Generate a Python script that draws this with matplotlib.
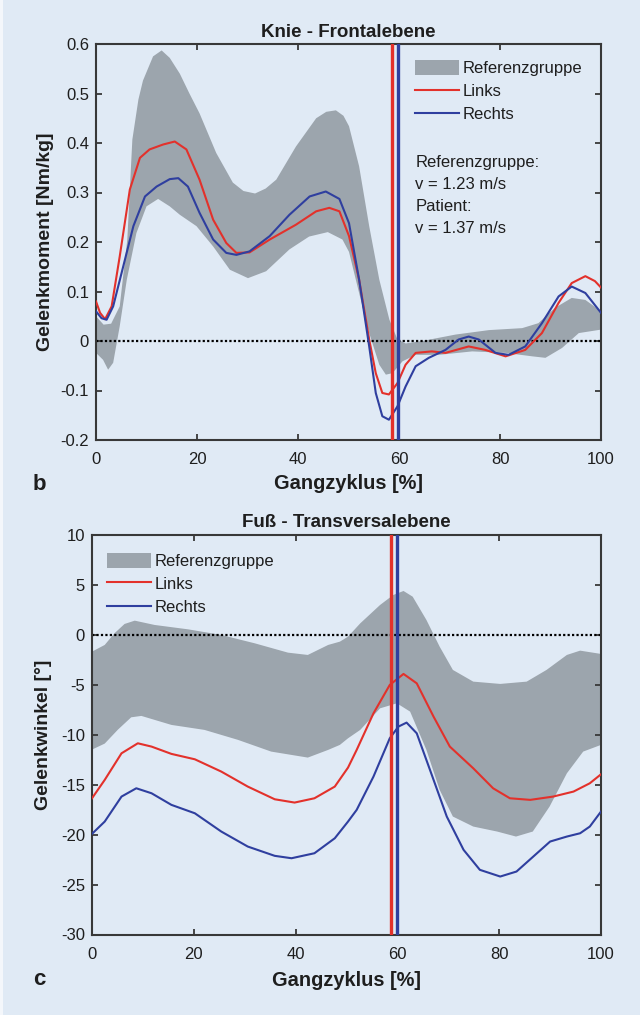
import matplotlib
matplotlib.use("Agg")
import matplotlib.pyplot as plt
from matplotlib.patches import Rectangle
import numpy as np

plt.rcParams['font.family'] = ['Liberation Sans', 'DejaVu Sans']
plt.rcParams['axes.unicode_minus'] = False

# ---------------- data ----------------
x_ticks = [0, 20, 40, 60, 80, 100]
x_ticklabels = ["0", "20", "40", "60", "80", "100"]

# toe-off markers (% gait cycle)
toe_off_links = 58.7
toe_off_rechts = 59.9

# Knee - frontal plane
knee_yticks = [-0.2, -0.1, 0, 0.1, 0.2, 0.3, 0.4, 0.5, 0.6]
knee_yticklabels = ["-0.2", "-0.1", "0", "0.1", "0.2", "0.3", "0.4", "0.5", "0.6"]

knee_ref_upper_x = [0, 1.5, 3, 4.7, 6.2, 7.2, 8.4, 9.3, 11.3, 13, 14.6, 16.6, 18.5, 20.5, 23.8,
                    27.1, 29.2, 31.5, 33.6, 35.7, 39.6, 43.6, 45.6, 47.5, 49.0, 50.1, 52.1, 54.1,
                    56.1, 58.1, 59.7, 61.3, 64.6, 71.2, 77.8, 84.4, 87.6, 90.9, 94.2, 96.9, 100]
knee_ref_upper_y = [0.05, 0.033, 0.035, 0.07, 0.205, 0.407, 0.488, 0.526, 0.575, 0.587, 0.572,
                    0.54, 0.50, 0.46, 0.38, 0.32, 0.303, 0.298, 0.308, 0.326, 0.393, 0.45, 0.463,
                    0.466, 0.455, 0.434, 0.353, 0.232, 0.124, 0.043, 0.003, -0.005, 0.0, 0.013,
                    0.022, 0.026, 0.036, 0.067, 0.087, 0.083, 0.06]
knee_ref_lower_x = [0, 1.4, 2.4, 3.4, 4.7, 6.1, 8.0, 10.0, 12.3, 14.6, 16.6, 19.9, 23.2, 26.5, 30.1,
                    33.7, 38.3, 42.2, 45.9, 48.8, 50.1, 52.1, 54.1, 56.1, 57.4, 58.7, 60.7, 63.3,
                    67.9, 74.5, 81.1, 86.4, 89.0, 92.3, 95.6, 100]
knee_ref_lower_y = [-0.024, -0.038, -0.058, -0.044, 0.03, 0.124, 0.218, 0.272, 0.287, 0.272, 0.255,
                    0.232, 0.191, 0.144, 0.127, 0.141, 0.185, 0.211, 0.22, 0.205, 0.18, 0.097, 0.016,
                    -0.048, -0.068, -0.065, -0.041, -0.028, -0.028, -0.021, -0.024, -0.031, -0.034,
                    -0.014, 0.016, 0.023]
knee_links_x = [0, 0.8, 1.8, 3.1, 4.7, 6.7, 8.7, 10.6, 13.3, 15.6, 17.9, 20.5, 23.2, 25.8, 27.8,
                30.4, 34.4, 39.6, 43.6, 46.2, 48.2, 50.1, 52.1, 54.1, 55.4, 56.7, 58.0, 59.7, 61.3,
                63.3, 66.5, 69.2, 73.8, 77.1, 81.1, 85.0, 88.3, 91.6, 94.2, 96.9, 98.8, 100]
knee_links_y = [0.08, 0.057, 0.044, 0.07, 0.171, 0.306, 0.37, 0.387, 0.397, 0.403, 0.387, 0.326,
                0.245, 0.198, 0.178, 0.179, 0.205, 0.235, 0.262, 0.269, 0.262, 0.212, 0.124, 0.003,
                -0.065, -0.105, -0.108, -0.085, -0.048, -0.024, -0.021, -0.024, -0.011, -0.018,
                -0.031, -0.018, 0.016, 0.077, 0.117, 0.131, 0.121, 0.108]
knee_rechts_x = [0, 1.1, 2.1, 3.4, 5.4, 7.4, 9.7, 12.0, 14.6, 16.3, 18.2, 20.5, 23.2, 25.8, 27.8,
                 30.4, 34.4, 38.3, 42.3, 45.5, 48.2, 50.1, 52.1, 54.1, 55.4, 56.7, 58.0, 59.7, 61.3,
                 63.3, 65.9, 69.2, 71.8, 73.8, 75.8, 79.1, 81.7, 85.0, 88.3, 91.6, 94.2, 96.9, 100]
knee_rechts_y = [0.06, 0.046, 0.043, 0.07, 0.151, 0.232, 0.292, 0.312, 0.327, 0.329, 0.312, 0.259,
                 0.205, 0.178, 0.174, 0.181, 0.212, 0.255, 0.292, 0.302, 0.287, 0.238, 0.124,
                 -0.011, -0.105, -0.152, -0.159, -0.132, -0.092, -0.051, -0.034, -0.018, 0.003,
                 0.009, 0.003, -0.024, -0.028, -0.011, 0.036, 0.09, 0.11, 0.097, 0.057]

# Foot - transverse plane
foot_yticks = [-30, -25, -20, -15, -10, -5, 0, 5, 10]
foot_yticklabels = ["-30", "-25", "-20", "-15", "-10", "-5", "0", "5", "10"]

foot_ref_upper_x = [0, 2.5, 4.4, 6.4, 8.4, 12.3, 18.9, 25.4, 32.0, 38.5, 42.4, 46.4, 48.7, 50.3,
                    52.7, 56.6, 59.2, 61.2, 63.0, 65.7, 68.3, 70.9, 74.9, 80.2, 85.4, 89.3, 93.3,
                    95.9, 100]
foot_ref_upper_y = [-1.7, -1.03, 0.13, 1.07, 1.4, 0.97, 0.53, -0.03, -0.87, -1.8, -2.03, -1.03,
                    -0.7, -0.2, 1.13, 2.97, 3.97, 4.37, 3.8, 1.47, -1.2, -3.53, -4.7, -4.93, -4.7,
                    -3.53, -2.03, -1.6, -1.93]
foot_ref_lower_x = [0, 2.5, 5.1, 7.7, 9.7, 15.6, 22.1, 28.7, 35.2, 42.4, 46.4, 48.7, 50.3, 52.7,
                    56.6, 59.9, 62.5, 65.7, 68.3, 70.9, 74.9, 79.6, 83.3, 86.6, 89.9, 93.3, 96.5, 100]
foot_ref_lower_y = [-11.5, -10.9, -9.5, -8.27, -8.13, -9.03, -9.53, -10.53, -11.7, -12.3, -11.53,
                    -11.03, -10.37, -9.53, -7.37, -6.87, -7.7, -11.53, -15.53, -18.2, -19.2, -19.7,
                    -20.2, -19.7, -17.2, -13.87, -11.7, -11.03]
foot_links_x = [0, 2.5, 5.8, 9.0, 11.7, 15.6, 20.2, 25.4, 30.6, 35.9, 39.8, 43.7, 47.7, 50.3, 52.0,
                55.3, 58.5, 61.2, 63.8, 67.1, 70.3, 74.9, 78.8, 82.1, 86.1, 90.6, 94.6, 97.8, 100]
foot_links_y = [-16.37, -14.53, -11.87, -10.87, -11.2, -11.93, -12.47, -13.7, -15.2, -16.47,
                -16.8, -16.37, -15.2, -13.3, -11.53, -7.87, -5.03, -3.93, -4.87, -8.2, -11.2,
                -13.37, -15.37, -16.37, -16.53, -16.2, -15.7, -14.87, -13.97]
foot_rechts_x = [0, 2.5, 5.8, 8.7, 11.7, 15.6, 20.2, 25.4, 30.6, 35.9, 39.2, 43.7, 47.7, 50.3, 52.0,
                 55.3, 58.5, 60.2, 61.8, 63.8, 66.4, 69.7, 73.0, 76.2, 80.2, 83.4, 86.7, 90.0, 93.3,
                 95.9, 97.8, 100]
foot_rechts_y = [-19.93, -18.7, -16.2, -15.37, -15.87, -17.03, -17.87, -19.7, -21.2, -22.13,
                 -22.37, -21.87, -20.37, -18.7, -17.53, -14.2, -10.37, -9.2, -8.8, -9.87, -13.53,
                 -18.2, -21.53, -23.53, -24.2, -23.7, -22.2, -20.7, -20.2, -19.87, -19.2, -17.7]

# ---------------- style ----------------
BG = "#e0eaf5"
BAND = "#9ca5ad"
RED = "#e3312b"
BLUE = "#2f3f9f"
SPINE = "#383838"
TXT = "#1e1e1e"

W, H = 640, 1015
fig = plt.figure(figsize=(W / 100, H / 100), dpi=100)
fig.patch.set_facecolor(BG)
fig.patches.append(Rectangle((0, 0), 3 / W, 1, transform=fig.transFigure,
                             facecolor="#f4f7fb", edgecolor="none", zorder=0))


def px_axes(left, top, right, bottom):
    return fig.add_axes([left / W, 1 - bottom / H, (right - left) / W, (bottom - top) / H])


def panel(ax, title, ylims, yticks, yticklabels, ylabel,
          up_x, up_y, lo_x, lo_y, l_x, l_y, r_x, r_y, ylabel_x, xlabel_y, title_pad):
    ax.set_facecolor(BG)
    band = ax.fill(np.r_[up_x, lo_x[::-1]], np.r_[up_y, lo_y[::-1]],
                   facecolor=BAND, edgecolor="none", zorder=1, label="Referenzgruppe")[0]
    ax.axhline(0, color="black", lw=1.6, ls=(0, (1, 1)), zorder=2)
    ll, = ax.plot(l_x, l_y, color=RED, lw=1.5, zorder=3, label="Links",
                  solid_joinstyle="round")
    lr, = ax.plot(r_x, r_y, color=BLUE, lw=1.5, zorder=3, label="Rechts",
                  solid_joinstyle="round")
    ax.axvline(toe_off_links, color=RED, lw=2.4, zorder=4)
    ax.axvline(toe_off_rechts, color=BLUE, lw=2.4, zorder=4)
    ax.set_xlim(0, 100)
    ax.set_ylim(*ylims)
    ax.set_xticks(x_ticks)
    ax.set_xticklabels(x_ticklabels)
    ax.set_yticks(yticks)
    ax.set_yticklabels(yticklabels)
    ax.tick_params(direction="in", length=4.5, width=1.3, color=SPINE,
                   top=True, right=True, labelsize=12, labelcolor=TXT)
    ax.tick_params(axis="x", pad=9)
    ax.tick_params(axis="y", pad=5)
    for s in ax.spines.values():
        s.set_color(SPINE)
        s.set_linewidth(1.5)
    ax.set_title(title, fontsize=13.5, fontweight="bold", color=TXT, pad=title_pad)
    ax.set_xlabel("Gangzyklus [%]", fontsize=14.4, fontweight="bold", color=TXT, va="top")
    ax.xaxis.set_label_coords(0.5, xlabel_y)
    ax.set_ylabel(ylabel, fontsize=14, fontweight="bold", color=TXT, va="center")
    ax.yaxis.set_label_coords(ylabel_x, 0.5)
    return band, ll, lr


LEG = dict(loc="upper left", frameon=False, fontsize=12, handlelength=2.65,
           handleheight=1.05, handletextpad=0.2, labelspacing=0.4, borderpad=0,
           borderaxespad=0, labelcolor=TXT)

ax1 = px_axes(96, 44, 601, 440)
h1 = panel(ax1, "Knie - Frontalebene", (-0.2, 0.6), knee_yticks, knee_yticklabels,
           "Gelenkmoment [Nm/kg]",
           knee_ref_upper_x, knee_ref_upper_y, knee_ref_lower_x, knee_ref_lower_y,
           knee_links_x, knee_links_y, knee_rechts_x, knee_rechts_y,
           ylabel_x=-0.100, xlabel_y=-0.085, title_pad=5.3)
ax1.legend(handles=list(h1), bbox_to_anchor=(0.632, 0.960), **LEG)
ax1.text(0.632, 0.720, "Referenzgruppe:\nv = 1.23 m/s\nPatient:\nv = 1.37 m/s",
         transform=ax1.transAxes, ha="left", va="top", fontsize=12, color=TXT,
         linespacing=1.6)

ax2 = px_axes(92, 534.7, 601, 934.5)
h2 = panel(ax2, "Fuß - Transversalebene", (-30, 10), foot_yticks, foot_yticklabels,
           "Gelenkwinkel [°]",
           foot_ref_upper_x, foot_ref_upper_y, foot_ref_lower_x, foot_ref_lower_y,
           foot_links_x, foot_links_y, foot_rechts_x, foot_rechts_y,
           ylabel_x=-0.095, xlabel_y=-0.092, title_pad=5.8)
ax2.legend(handles=list(h2), bbox_to_anchor=(0.0295, 0.955), **LEG)

fig.text(33 / W, 1 - 490 / H, "b", fontsize=16, fontweight="bold", color=TXT,
         ha="left", va="baseline")
fig.text(33 / W, 1 - 985 / H, "c", fontsize=16, fontweight="bold", color=TXT,
         ha="left", va="baseline")

fig.savefig("out.png", dpi=100, facecolor=fig.get_facecolor())
